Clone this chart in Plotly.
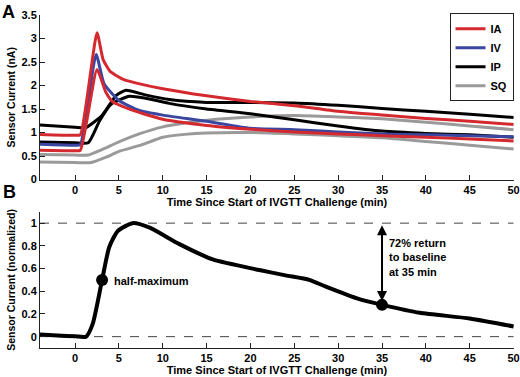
import plotly.graph_objects as go

# ---------------- Panel A data (Sensor Current, nA) ----------------
ia1_t = [-4, 0, 0.6, 2.5, 3.2, 4, 5.5, 7, 10, 15, 20, 25, 30, 35, 40, 45, 50]
ia1_y = [0.96, 0.94, 0.95, 3.12, 2.55, 2.30, 2.13, 2.05, 1.93, 1.78, 1.66, 1.57, 1.45, 1.37, 1.30, 1.24, 1.17]

ia2_t = [-4, 0, 0.6, 2.5, 3.5, 4.3, 6.6, 10, 15, 20, 25, 30, 35, 40, 45, 50]
ia2_y = [0.62, 0.61, 0.62, 2.34, 1.86, 1.65, 1.47, 1.28, 1.15, 1.07, 1.01, 0.97, 0.93, 0.90, 0.86, 0.82]

iv_t = [-4, 0, 0.6, 2.4, 3.3, 5, 7.3, 10, 15, 20, 25, 30, 35, 40, 45, 50]
iv_y = [0.75, 0.73, 0.74, 2.66, 2.04, 1.68, 1.47, 1.37, 1.24, 1.09, 1.06, 1.01, 0.97, 0.95, 0.93, 0.91]

ip1_t = [-4, 0, 1.2, 3, 4.7, 5.8, 8, 10.75, 15, 20, 25, 30, 35, 40, 45, 50]
ip1_y = [1.16, 1.11, 1.10, 1.35, 1.79, 1.90, 1.80, 1.70, 1.64, 1.64, 1.63, 1.58, 1.51, 1.45, 1.39, 1.32]

ip2_t = [-4, 0, 1.5, 2.8, 4.1, 6.2, 8, 10.75, 15, 20, 25, 30, 35, 40, 45, 50]
ip2_y = [0.80, 0.78, 0.78, 1.25, 1.60, 1.77, 1.73, 1.62, 1.50, 1.40, 1.27, 1.14, 1.03, 0.98, 0.95, 0.90]

sq1_t = [-4, 0, 1.5, 3, 5, 7.3, 10, 12.5, 15, 20, 25, 30, 35, 40, 45, 50]
sq1_y = [0.53, 0.52, 0.52, 0.63, 0.80, 0.97, 1.12, 1.20, 1.26, 1.33, 1.36, 1.33, 1.29, 1.22, 1.14, 1.06]

sq2_t = [-4, 0, 1.8, 3.6, 5, 7.3, 10, 12.5, 15, 20, 25, 30, 35, 40, 45, 50]
sq2_y = [0.37, 0.36, 0.36, 0.48, 0.60, 0.72, 0.90, 0.96, 0.99, 1.00, 0.97, 0.93, 0.89, 0.81, 0.73, 0.65]

# ---------------- Panel B data (normalized) ----------------
norm_t = [-4, -2, 0, 1.25, 2, 3.08, 3.9, 4.86, 6.57, 8.5, 11.9, 15.7, 21, 24, 26.7, 28.6, 32.4, 35, 39.3, 45, 50]
norm_y = [0.018, 0.01, 0.003, 0.0, 0.11, 0.50, 0.79, 0.93, 1.0, 0.96, 0.815, 0.68, 0.587, 0.54, 0.50, 0.44, 0.33, 0.28, 0.21, 0.16, 0.09]

half_max_t = [3.08]
half_max_y = [0.50]
ret_t = [35]
ret_y = [0.28]

x_ticks = [0, 5, 10, 15, 20, 25, 30, 35, 40, 45, 50]
x_title = "Time Since Start of IVGTT Challenge (min)"

RED = "#d42a2f"
BLUE = "#3a46a0"
BLACK = "#000000"
GRAY = "#9a9a9a"
FONT = "Arial, Liberation Sans, sans-serif"

fig = go.Figure()

series = [
    (sq2_t, sq2_y, GRAY, "SQ", False),
    (sq1_t, sq1_y, GRAY, "SQ", True),
    (ip2_t, ip2_y, BLACK, "IP", False),
    (ip1_t, ip1_y, BLACK, "IP", True),
    (iv_t, iv_y, BLUE, "IV", True),
    (ia2_t, ia2_y, RED, "IA", False),
    (ia1_t, ia1_y, RED, "IA", True),
]
rank = {"IA": 1, "IV": 2, "IP": 3, "SQ": 4}
for t, y, c, name, show in series:
    fig.add_trace(go.Scatter(
        x=t, y=y, mode="lines", name=name, legendgroup=name, showlegend=show,
        legendrank=rank[name],
        line=dict(color=c, width=3, shape="spline", smoothing=0.5),
        xaxis="x", yaxis="y"))

# Panel B
fig.add_trace(go.Scatter(x=[-4, 50], y=[1, 1], mode="lines", showlegend=False,
                         line=dict(color="#444", width=1, dash="dash"), xaxis="x2", yaxis="y2"))
fig.add_trace(go.Scatter(x=[-4, 50], y=[0, 0], mode="lines", showlegend=False,
                         line=dict(color="#444", width=1, dash="dash"), xaxis="x2", yaxis="y2"))
fig.add_trace(go.Scatter(x=norm_t, y=norm_y, mode="lines", showlegend=False,
                         line=dict(color=BLACK, width=4, shape="spline", smoothing=0.6),
                         xaxis="x2", yaxis="y2"))
fig.add_trace(go.Scatter(x=half_max_t + ret_t, y=half_max_y + ret_y, mode="markers", showlegend=False,
                         marker=dict(color=BLACK, size=12), xaxis="x2", yaxis="y2"))

axis_common = dict(showline=True, linecolor="#222", linewidth=1, ticks="inside", ticklen=5,
                   tickcolor="#222", showgrid=False, zeroline=False, mirror=False,
                   automargin=False)
x_common = dict(range=[-4, 50.05], tickvals=x_ticks, ticklabeloverflow="allow",
                title=dict(text=x_title, standoff=3,
                           font=dict(size=11, family=FONT, weight="bold", color="black")))
ytitle_font = dict(size=10.5, family=FONT, weight="bold", color="black")

fig.update_layout(
    width=520, height=377,
    margin=dict(l=40, r=6, t=15, b=29, autoexpand=False),
    paper_bgcolor="white", plot_bgcolor="white",
    font=dict(family=FONT, size=11, color="black", weight="bold"),
    xaxis=dict(domain=[0, 1], anchor="y", **x_common, **axis_common),
    yaxis=dict(domain=[0.506, 1], anchor="x", range=[0, 3.5], dtick=0.5,
               title=dict(text="Sensor Current (nA)", standoff=3, font=ytitle_font), **axis_common),
    xaxis2=dict(domain=[0, 1], anchor="y2", **x_common, **axis_common),
    yaxis2=dict(domain=[0, 0.409], anchor="x2", range=[-0.1, 1.1], dtick=0.2,
                title=dict(text="Sensor Current (normalized)", standoff=3, font=ytitle_font),
                **axis_common),
    legend=dict(x=0.999, y=1.005, xanchor="right", yanchor="top",
                bordercolor="#222", borderwidth=1, bgcolor="white",
                font=dict(size=11, family=FONT, weight="bold"),
                tracegroupgap=0, itemwidth=30),
    annotations=[
        dict(text="<b>A</b>", xref="paper", yref="paper", x=-0.084, y=1.045,
             xanchor="left", yanchor="top", showarrow=False,
             font=dict(size=18, family=FONT)),
        dict(text="<b>B</b>", xref="paper", yref="paper", x=-0.082, y=0.505,
             xanchor="left", yanchor="top", showarrow=False,
             font=dict(size=18, family=FONT)),
        dict(text="half-maximum", x=4.2, y=0.49, xref="x2", yref="y2",
             xanchor="left", yanchor="middle", showarrow=False),
        dict(text="72% return<br>to baseline<br>at 35 min", x=35.6, y=0.9, xref="x2", yref="y2",
             xanchor="left", yanchor="top", align="left", showarrow=False),
        dict(text="", x=35, y=0.315, ax=35, ay=0.995, xref="x2", yref="y2",
             axref="x2", ayref="y2", showarrow=True, arrowhead=2, arrowside="end+start",
             arrowwidth=2, arrowcolor="black", arrowsize=1),
    ],
)

fig.write_html("out.html", config={"displayModeBar": False},
               post_script="document.body.style.margin='0';")
